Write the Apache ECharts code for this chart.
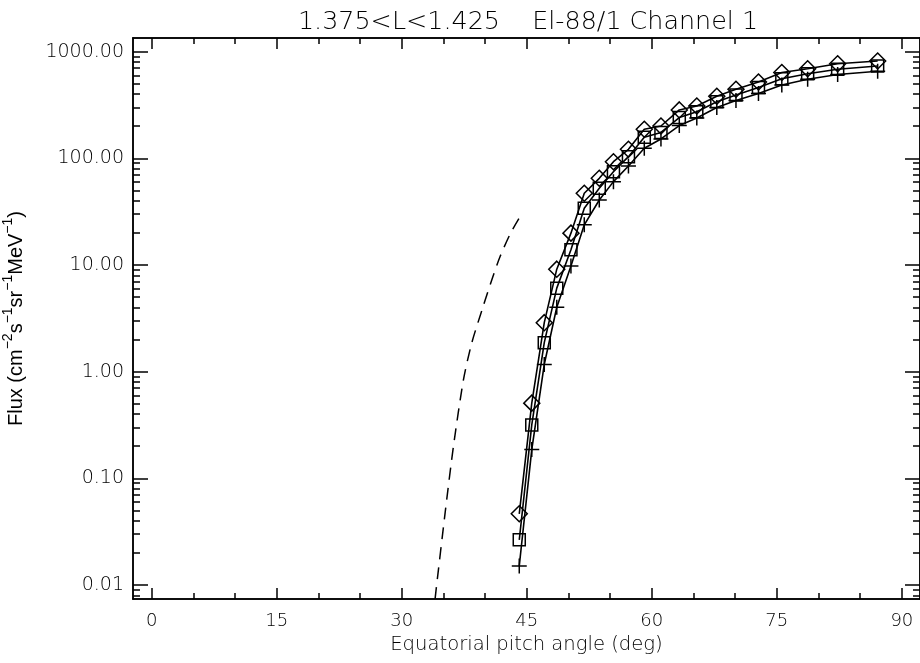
<!DOCTYPE html>
<html>
<head>
<meta charset="utf-8">
<script src="https://cdn.jsdelivr.net/npm/echarts@6/dist/echarts.min.js"></script>
<style>html,body{margin:0;padding:0;background:#fff}#chart{width:920px;height:663px}</style>
</head>
<body>
<div id="chart"></div>
<script>
// ---- data ----
const titleText = '1.375<L<1.425    El-88/1 Channel 1';
const xName = 'Equatorial pitch angle (deg)';
const pitchAngles = [44.1, 45.6, 47.1, 48.6, 50.3, 51.9, 53.7, 55.4, 57.2, 59.1, 61.1, 63.3, 65.4, 67.8, 70.1, 72.8, 75.6, 78.7, 82.3, 87.1];
const diamondFlux = [0.0465, 0.507, 2.88, 9.14, 19.9, 47.1, 65, 93, 121.6, 187.5, 201, 284.6, 310, 382, 445, 520, 638, 692, 771, 818];
const squareFlux  = [0.0265, 0.317, 1.87, 6.07, 13.9, 34.0, 52.5, 75, 103.7, 157.8, 175, 241.5, 274, 340, 393, 461, 557, 622, 685, 735];
const plusFlux    = [0.0151, 0.186, 1.17, 4.02, 9.8, 23.8, 40.7, 60.5, 84.9, 124.5, 152, 203, 239, 300, 349, 406, 488, 551, 611, 655];
const dashAngles = [34.0, 34.12, 35.2, 36.2, 37.4, 38.4, 39.8, 40.8, 41.8, 43.0, 44.1];
const dashFlux   = [0.0074, 0.0090, 0.0472, 0.199, 0.837, 1.86, 4.17, 7.24, 12.0, 19.5, 27.6];
const xMajorTicks = [0, 15, 30, 45, 60, 75, 90];
const xMinorTicks = [5, 10, 20, 25, 35, 40, 50, 55, 65, 70, 80, 85];
const yMajorTicks = [0.01, 0.1, 1, 10, 100, 1000];
const yMinorTicks = [0.008, 0.009,
  0.02, 0.03, 0.04, 0.05, 0.06, 0.07, 0.08, 0.09,
  0.2, 0.3, 0.4, 0.5, 0.6, 0.7, 0.8, 0.9,
  2, 3, 4, 5, 6, 7, 8, 9,
  20, 30, 40, 50, 60, 70, 80, 90,
  200, 300, 400, 500, 600, 700, 800, 900];
const X_MIN = -2.244, X_MAX = 92.18;
const Y_MIN = 0.007392, Y_MAX = 1344;

// ---- chart ----
const chart = echarts.init(document.getElementById('chart'), null, {renderer: 'canvas'});
const black = '#000';
const tickFont = 'DejaVu Sans';
const pair = (xs, ys) => xs.map((x, i) => [x, ys[i]]);

function xAx(pos, ticks, len, labels) {
  return {
    type: 'value', position: pos, min: X_MIN, max: X_MAX,
    axisLine: {show: true, onZero: false, lineStyle: {color: black, width: 1.5}},
    axisTick: {show: true, inside: true, length: len, customValues: ticks, lineStyle: {color: black, width: 1.5}},
    axisLabel: labels ? {show: true, customValues: ticks, color: black, fontFamily: tickFont, fontSize: 18, fontWeight: 200, margin: 13} : {show: false},
    splitLine: {show: false}
  };
}
function yAx(pos, ticks, len, labels) {
  return {
    type: 'log', position: pos, min: Y_MIN, max: Y_MAX, logBase: 10,
    axisLine: {show: true, onZero: false, lineStyle: {color: black, width: 1.5}},
    axisTick: {show: true, inside: true, length: len, customValues: ticks, lineStyle: {color: black, width: 1.5}},
    axisLabel: labels ? {show: true, customValues: ticks, color: black, fontFamily: tickFont, fontSize: 19, fontWeight: 200, margin: 9,
      formatter: v => Number(v).toFixed(2)} : {show: false},
    splitLine: {show: false}
  };
}

const xAxes = [
  xAx('bottom', xMajorTicks, 11, true),
  xAx('bottom', xMinorTicks, 6, false),
  xAx('top', xMajorTicks, 11, false),
  xAx('top', xMinorTicks, 6, false)
];
xAxes[0].name = xName;
xAxes[0].nameLocation = 'middle';
xAxes[0].nameGap = 31;
xAxes[0].nameTextStyle = {color: black, fontFamily: tickFont, fontSize: 19.6, fontWeight: 200};

const yAxes = [
  yAx('left', yMajorTicks, 15, true),
  yAx('left', yMinorTicks, 7, false),
  yAx('right', yMajorTicks, 15, false),
  yAx('right', yMinorTicks, 7, false)
];
yAxes[0].name = '{n|Flux (cm}{s|\u22122}{n|s}{s|\u22121}{n|sr}{s|\u22121}{n|MeV}{s|\u22121}{n|)}';
yAxes[0].nameLocation = 'middle';
yAxes[0].nameRotate = 90;
yAxes[0].nameGap = 107;
yAxes[0].nameTextStyle = {
  color: black,
  rich: {
    n: {fontFamily: 'Liberation Sans', fontSize: 20, color: black, verticalAlign: 'bottom', lineHeight: 25},
    s: {fontFamily: 'Liberation Sans', fontSize: 14, color: black, verticalAlign: 'top', lineHeight: 25}
  }
};

function markerSeries(name, data, symbol, size) {
  return {
    name, type: 'line', xAxisIndex: 0, yAxisIndex: 0,
    data, symbol, symbolSize: size, showSymbol: true,
    lineStyle: {color: black, width: 1.6},
    itemStyle: {color: 'rgba(0,0,0,0)', borderColor: black, borderWidth: 1.5},
    emphasis: {disabled: true}, silent: true, z: 3
  };
}

chart.setOption({
  animation: false,
  backgroundColor: '#fff',
  title: {
    text: titleText, left: 523, top: 5, textAlign: 'center',
    textStyle: {color: black, fontFamily: tickFont, fontSize: 25.4, fontWeight: 200}
  },
  grid: {left: 133, right: 0, top: 38, bottom: 64, containLabel: false, outerBoundsMode: 'none'},
  xAxis: xAxes,
  yAxis: yAxes,
  series: [
    markerSeries('diamond', pair(pitchAngles, diamondFlux), 'diamond', [16, 16]),
    markerSeries('square', pair(pitchAngles, squareFlux), 'rect', [12, 12]),
    markerSeries('plus', pair(pitchAngles, plusFlux), 'path://M5,0L5,10M0,5L10,5', [15, 15]),
    {
      name: 'dashed', type: 'line', xAxisIndex: 0, yAxisIndex: 0,
      data: pair(dashAngles, dashFlux), showSymbol: false, symbol: 'none',
      smooth: 0.25,
      lineStyle: {color: black, width: 1.5, type: [12, 8]},
      silent: true, clip: true
    }
  ]
});
</script>
</body>
</html>
